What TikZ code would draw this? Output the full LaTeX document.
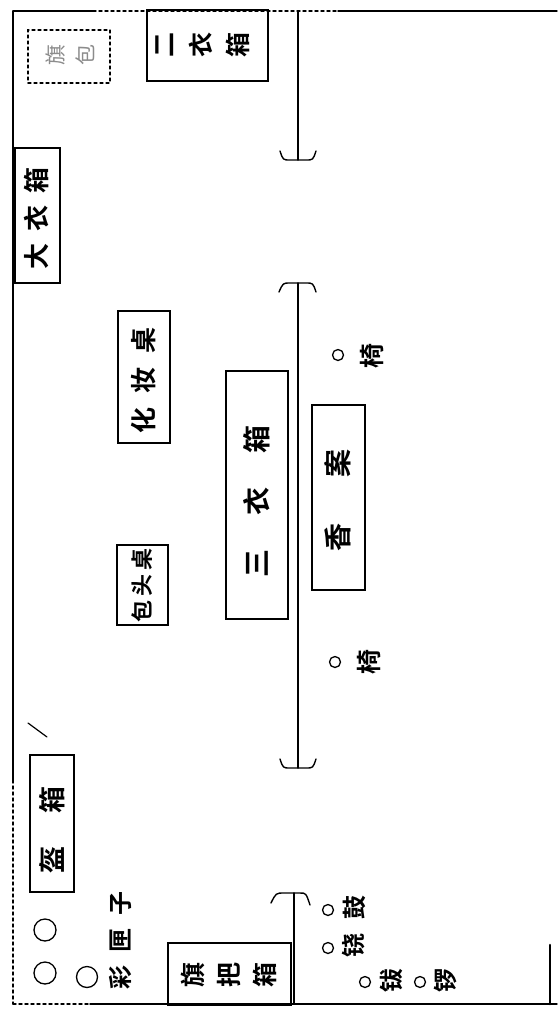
\documentclass[tikz,border=0pt]{standalone}
\usepackage{fontspec}
\newfontfamily\cjk{Noto Sans CJK SC}[BoldFont={Noto Sans CJK SC Bold}]
\begin{document}
\begin{tikzpicture}[x=1pt,y=-1pt, line cap=round,
  wall/.style={line width=1.4pt},
  boxshape/.style={draw, line width=1.3pt, inner sep=0pt, rectangle},
  lab/.style={rotate=90, inner sep=0pt, align=center},
  seat/.style={draw, circle, line width=1.3pt, inner sep=0pt, minimum size=11pt}]
\useasboundingbox[fill=white] (0,0) rectangle (557,1012);

% outer border
\coordinate (c1) at (13,11);
\coordinate (c2) at (557,11);
\coordinate (c4) at (13,1004);
\coordinate (c3) at (557,1004);
\draw[wall] (c1) -- (93,11);
\draw[wall, dashed] (93,11) -- (338,11);
\draw[wall] (338,11) -- (c2);
\draw[wall] (c1) -- (13,780);
\draw[wall, dashed] (13,780) -- (c4);
\draw[wall, dashed] (c4) -- (90,1004);
\draw[wall] (90,1004) -- (c3);
\draw[line width=2.6pt] (550,945) -- (550,1004);
\draw[line width=1.2pt] (28,723) -- (47,737);

% boxes
\node[boxshape, minimum width=121pt, minimum height=71pt] (b2) at (207.5,45.5) {};
\node[boxshape, dashed, minimum width=82pt, minimum height=53pt] (bq) at (69,56.5) {};
\node[boxshape, minimum width=45pt, minimum height=135pt] (b1) at (37.5,215.5) {};
\node[boxshape, minimum width=52pt, minimum height=132pt] (bh) at (144,377) {};
\node[boxshape, minimum width=51pt, minimum height=80pt] (bb) at (142.5,585) {};
\node[boxshape, minimum width=62pt, minimum height=248pt] (b3) at (257,495) {};
\node[boxshape, minimum width=53pt, minimum height=185pt] (bx) at (338.5,497.5) {};
\node[boxshape, minimum width=44pt, minimum height=137pt] (bk) at (52,823.5) {};
\node[boxshape, minimum width=123pt, minimum height=62pt] (bf) at (229.5,974) {};

% labels
\node[lab, font=\cjk\bfseries\fontsize{25}{37}\selectfont] (t2) at (203,45) {二\\衣\\箱};
\node[lab, font=\cjk\fontsize{21}{30}\selectfont, text=black!45] (tq) at (70,55) {旗\\包};
\node[lab, font=\cjk\bfseries\fontsize{26}{30}\selectfont] (t1) at (37,218) {大\hspace{12pt}衣\hspace{12pt}箱};
\node[lab, font=\cjk\bfseries\fontsize{26}{30}\selectfont] (th) at (144,380) {化\hspace{14pt}妆\hspace{14pt}桌};
\node[lab, font=\cjk\bfseries\fontsize{22}{26}\selectfont] (tb) at (142,585) {包\hspace{4pt}头\hspace{4pt}桌};
\node[lab, font=\cjk\bfseries\fontsize{28}{32}\selectfont] (t3) at (257,501) {三\hspace{34pt}衣\hspace{34pt}箱};
\node[lab, font=\cjk\bfseries\fontsize{28}{32}\selectfont] (tx) at (338,500) {香\hspace{46pt}案};
\node[lab, font=\cjk\bfseries\fontsize{27}{30}\selectfont] (tk) at (52,830) {盔\hspace{33pt}箱};
\node[lab, font=\cjk\bfseries\fontsize{24}{28}\selectfont] (tc) at (120,940) {彩\hspace{13pt}匣\hspace{13pt}子};
\node[lab, font=\cjk\bfseries\fontsize{25}{36}\selectfont] (tf) at (229,975) {旗\\把\\箱};

% chairs
\node[seat] (s1) at (338,355) {};
\node[lab, font=\cjk\bfseries\fontsize{25}{28}\selectfont] (y1) at (372,356) {椅};
\node[seat] (s2) at (335,662) {};
\node[lab, font=\cjk\bfseries\fontsize{25}{28}\selectfont] (y2) at (369,662) {椅};

% small circles bottom-left
\node[seat, minimum size=22pt] (o1) at (45,930) {};
\node[seat, minimum size=22pt] (o2) at (45,973) {};
\node[seat, minimum size=21pt] (o3) at (87,977) {};

% percussion
\node[seat] (p1) at (328,910) {};
\node[lab, font=\cjk\bfseries\fontsize{24}{28}\selectfont] (q1) at (354,907) {鼓};
\node[seat] (p2) at (328,948) {};
\node[lab, font=\cjk\bfseries\fontsize{24}{28}\selectfont] (q2) at (354,945) {铙};
\node[seat] (p3) at (365,982) {};
\node[lab, font=\cjk\bfseries\fontsize{24}{28}\selectfont] (q3) at (391,980) {钹};
\node[seat] (p4) at (420,982) {};
\node[lab, font=\cjk\bfseries\fontsize{24}{28}\selectfont] (q4) at (446,980) {锣};

% top line with cap
\coordinate (u1) at (298,11);
\coordinate (u2) at (298,160);
\draw[wall] (u1) -- (u2);
\draw[wall] ([shift={(-18,-9)}]u2) .. controls ([shift={(-15,0)}]u2) .. ([shift={(-8,0)}]u2) -- ([shift={(8,0)}]u2) .. controls ([shift={(15,0)}]u2) .. ([shift={(18,-9)}]u2);

% middle line with caps
\coordinate (m1) at (298,283);
\coordinate (m2) at (298,768);
\draw[wall] (m1) -- (m2);
\draw[wall] ([shift={(-19,9)}]m1) .. controls ([shift={(-15,0)}]m1) .. ([shift={(-8,0)}]m1) -- ([shift={(8,0)}]m1) .. controls ([shift={(15,0)}]m1) .. ([shift={(18,9)}]m1);
\draw[wall] ([shift={(-18,-9)}]m2) .. controls ([shift={(-15,0)}]m2) .. ([shift={(-8,0)}]m2) -- ([shift={(8,0)}]m2) .. controls ([shift={(15,0)}]m2) .. ([shift={(18,-9)}]m2);

% bottom line with cap
\coordinate (d1) at (294,893);
\coordinate (d2) at (294,1004);
\draw[wall] (d1) -- (d2);
\draw[wall] ([shift={(-23,10)}]d1) .. controls ([shift={(-18,0)}]d1) .. ([shift={(-10,0)}]d1) -- ([shift={(6,0)}]d1) .. controls ([shift={(12,0)}]d1) .. ([shift={(16,12)}]d1);
\end{tikzpicture}
\end{document}
